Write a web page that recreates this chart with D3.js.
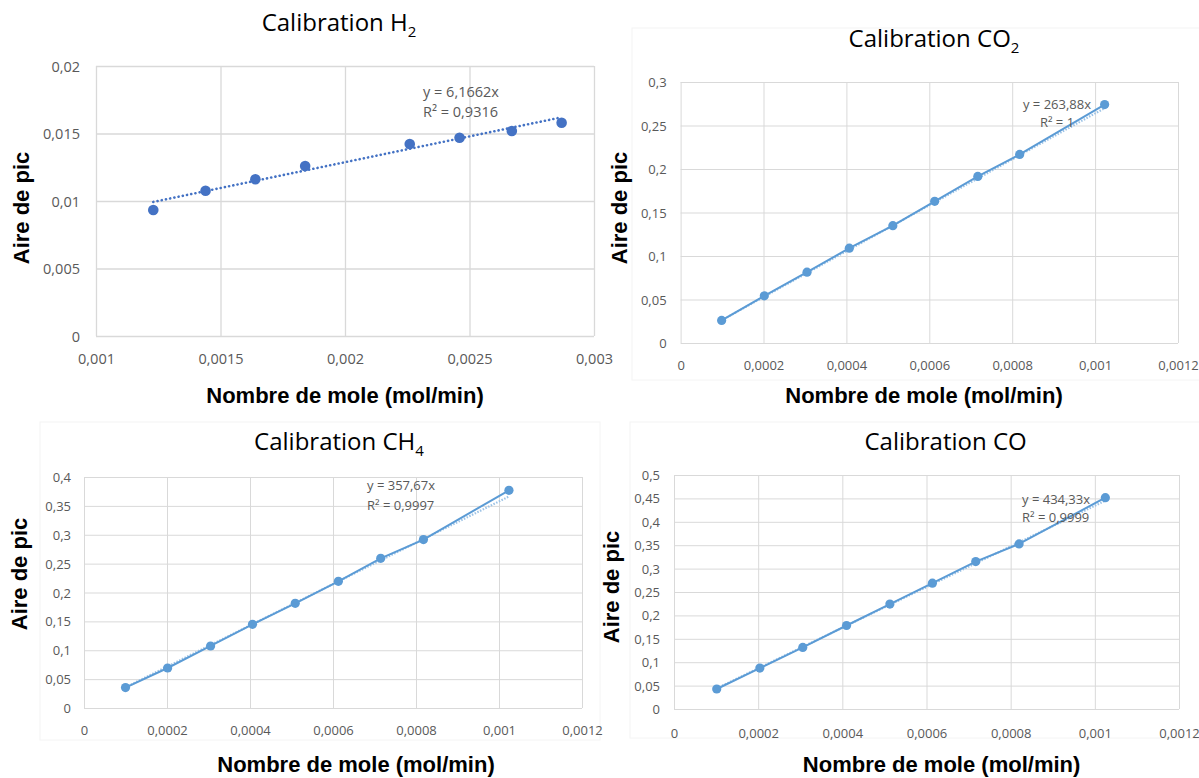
<!DOCTYPE html>
<html>
<head>
<meta charset="utf-8">
<script src="https://cdn.jsdelivr.net/npm/d3@7"></script>
<style>
  body { margin: 0; background: #fff; }
  svg { display: block; }
  .tick-label { font-family: "Open Sans", sans-serif; fill: #595959; }
  .title { font-family: "Open Sans", sans-serif; fill: #000; }
  .axis-title { font-family: "Liberation Sans", Arial, sans-serif; font-weight: bold; fill: #000; }
  .eq { font-family: "Open Sans", sans-serif; fill: #595959; }
</style>
</head>
<body>
<div id="chart"></div>
<script>
// values
var h2Moles = [0.00123, 0.00144, 0.00164, 0.00184, 0.00226, 0.00246, 0.00267, 0.00287]
var h2Aire = [0.00933, 0.01076, 0.01161, 0.01259, 0.01422, 0.01469, 0.01519, 0.0158]
var h2TrendEnds = [0.00993, 0.0162]
var h2Eq = ["y = 6,1662x", "R² = 0,9316"]

var co2Moles = [0.000099, 0.000202, 0.000305, 0.000407, 0.000512, 0.000613, 0.000717, 0.000818, 0.001023]
var co2Aire = [0.0259, 0.0542, 0.0814, 0.109, 0.1349, 0.1628, 0.1915, 0.2167, 0.274]
var co2Slope = 263.88
var co2Eq = ["y = 263,88x", "R² = 1"]

var ch4Moles = [0.0001, 0.0002015, 0.000305, 0.000406, 0.000509, 0.000613, 0.000715, 0.000818, 0.001024]
var ch4Aire = [0.0353, 0.0693, 0.1074, 0.1449, 0.1813, 0.2194, 0.2592, 0.2916, 0.377]
var ch4Slope = 357.67
var ch4Eq = ["y = 357,67x", "R² = 0,9997"]

var coMoles = [0.0001015, 0.000204, 0.000306, 0.00041, 0.000513, 0.000614, 0.000717, 0.00082, 0.001025]
var coAire = [0.0427, 0.0875, 0.1315, 0.1784, 0.2241, 0.2689, 0.315, 0.3528, 0.4516]
var coSlope = 434.33
var coEq = ["y = 434,33x", "R² = 0,9999"]

var h2XTicks = [0.001, 0.0015, 0.002, 0.0025, 0.003]
var h2YTicks = [0, 0.005, 0.01, 0.015, 0.02]
var molXTicks = [0, 0.0002, 0.0004, 0.0006, 0.0008, 0.001, 0.0012]
var co2YTicks = [0, 0.05, 0.1, 0.15, 0.2, 0.25, 0.3]
var ch4YTicks = [0, 0.05, 0.1, 0.15, 0.2, 0.25, 0.3, 0.35, 0.4]
var coYTicks = [0, 0.05, 0.1, 0.15, 0.2, 0.25, 0.3, 0.35, 0.4, 0.45, 0.5]

var xTitle = "Nombre de mole (mol/min)"
var yTitle = "Aire de pic"

var svg = d3.select("#chart")
    .append("svg")
        .attr("width", 1199)
        .attr("height", 778)

var fmt = function(d){ return String(d).replace(".", ",") }

function drawPanel(cfg){
    var g = svg.append("g")

    if (cfg.frame) {
        g.append("rect")
            .attr("x", cfg.frame[0]).attr("y", cfg.frame[1])
            .attr("width", cfg.frame[2]).attr("height", cfg.frame[3])
            .attr("fill", "none")
            .attr("stroke", "#f4f4f4")
    }

    var x = d3.scaleLinear()
        .domain(d3.extent(cfg.xTicks))
        .range([cfg.left, cfg.right])
    var y = d3.scaleLinear()
        .domain(d3.extent(cfg.yTicks))
        .range([cfg.bottom, cfg.top])
    var h = cfg.bottom - cfg.top,
        w = cfg.right - cfg.left

    // grid
    g.append("g")
        .attr("transform", "translate(0," + cfg.bottom + ")")
        .call(d3.axisBottom(x).tickValues(cfg.xTicks).tickSize(-h).tickFormat(""))
    g.append("g")
        .attr("transform", "translate(" + cfg.left + ",0)")
        .call(d3.axisLeft(y).tickValues(cfg.yTicks).tickSize(-w).tickFormat(""))
    g.selectAll(".domain").remove()
    g.selectAll(".tick line")
        .attr("stroke", "#d9d9d9")
        .attr("stroke-width", cfg.gridWidth)

    // tick labels
    var xAxis = g.append("g")
        .attr("transform", "translate(0," + cfg.bottom + ")")
        .call(d3.axisBottom(x).tickValues(cfg.xTicks).tickSize(0).tickFormat(fmt))
    xAxis.select(".domain").remove()
    xAxis.selectAll("text")
        .attr("class", "tick-label")
        .attr("y", cfg.xLabelOffset)
        .attr("dy", "0.35em")
        .attr("fill", null)
        .style("font-size", cfg.tickSize + "px")

    var yAxis = g.append("g")
        .attr("transform", "translate(" + cfg.left + ",0)")
        .call(d3.axisLeft(y).tickValues(cfg.yTicks).tickSize(0).tickFormat(fmt))
    yAxis.select(".domain").remove()
    yAxis.selectAll("text")
        .attr("class", "tick-label")
        .attr("x", -cfg.yLabelGap)
        .attr("dy", "0.35em")
        .attr("fill", null)
        .style("font-size", cfg.tickSize + "px")

    var pts = cfg.moles.map(function(d, i){ return { x: d, y: cfg.aire[i] } })

    // trendline
    var trend
    if (cfg.trendEnds) {
        trend = [{ x: pts[0].x, y: cfg.trendEnds[0] }, { x: pts[pts.length-1].x, y: cfg.trendEnds[1] }]
    } else {
        var ext = d3.extent(cfg.moles)
        trend = ext.map(function(d){ return { x: d, y: d * cfg.slope } })
    }
    var line = d3.line()
        .x(function(d){ return x(d.x) })
        .y(function(d){ return y(d.y) })

    if (cfg.connect) {
        g.append("path")
            .datum(trend)
            .attr("d", line)
            .attr("fill", "none")
            .attr("stroke", "#9dc3e6")
            .attr("stroke-width", 2.2)
            .attr("stroke-dasharray", "1.5,1.5")
        g.append("path")
            .datum(pts)
            .attr("d", line)
            .attr("fill", "none")
            .attr("stroke", cfg.color)
            .attr("stroke-width", 2)
    } else {
        g.append("path")
            .datum(trend)
            .attr("d", line)
            .attr("fill", "none")
            .attr("stroke", cfg.color)
            .attr("stroke-width", 2.6)
            .attr("stroke-linecap", "round")
            .attr("stroke-dasharray", "0.1,4.2")
    }

    g.selectAll(".pt")
        .data(pts)
        .enter()
        .append("circle")
            .attr("class", "pt")
            .attr("cx", function(d){ return x(d.x) })
            .attr("cy", function(d){ return y(d.y) })
            .attr("r", cfg.r)
            .attr("fill", cfg.color)

    // equation label
    var eq = g.append("text")
        .attr("class", "eq")
        .style("font-size", cfg.eqSize + "px")
        .attr("text-anchor", cfg.eqAnchor)
    cfg.eq.forEach(function(t, i){
        eq.append("tspan")
            .attr("x", cfg.eqPos[0])
            .attr("y", cfg.eqPos[1] + i * cfg.eqStep)
            .attr("dy", "0.35em")
            .text(t)
    })

    // titles
    var title = g.append("text")
        .attr("class", "title")
        .attr("x", cfg.titlePos[0])
        .attr("y", cfg.titlePos[1])
        .attr("text-anchor", "middle")
        .style("font-size", "24px")
    title.append("tspan").text(cfg.title[0])
    if (cfg.title[1]) {
        title.append("tspan")
            .attr("dy", 6)
            .style("font-size", "15px")
            .text(cfg.title[1])
    }

    g.append("text")
        .attr("class", "axis-title")
        .attr("x", cfg.xTitlePos[0])
        .attr("y", cfg.xTitlePos[1])
        .attr("dy", "0.35em")
        .attr("text-anchor", "middle")
        .style("font-size", "22px")
        .text(xTitle)

    g.append("text")
        .attr("class", "axis-title")
        .attr("transform", "translate(" + cfg.yTitlePos[0] + "," + cfg.yTitlePos[1] + ") rotate(-90)")
        .attr("dy", "0.35em")
        .attr("text-anchor", "middle")
        .style("font-size", "22px")
        .text(yTitle)
}

drawPanel({
    left: 96, right: 594, top: 66, bottom: 336,
    xTicks: h2XTicks, yTicks: h2YTicks,
    moles: h2Moles, aire: h2Aire, trendEnds: h2TrendEnds,
    color: "#4472c4", r: 5.3, connect: false, gridWidth: 1.3,
    tickSize: 14.5, xLabelOffset: 23, yLabelGap: 16,
    eq: h2Eq, eqPos: [423, 92], eqStep: 20, eqSize: 14.5, eqAnchor: "start",
    title: ["Calibration H", "2"], titlePos: [339, 31],
    xTitlePos: [345, 395], yTitlePos: [21, 208]
})

drawPanel({
    left: 680.6, right: 1178, top: 82, bottom: 343,
    xTicks: molXTicks, yTicks: co2YTicks,
    moles: co2Moles, aire: co2Aire, slope: co2Slope,
    color: "#5b9bd5", r: 4.6, connect: true, gridWidth: 1,
    tickSize: 13, xLabelOffset: 22.5, yLabelGap: 14,
    eq: co2Eq, eqPos: [1057, 104], eqStep: 18.5, eqSize: 13, eqAnchor: "middle",
    title: ["Calibration CO", "2"], titlePos: [934, 46.5],
    xTitlePos: [924, 395], yTitlePos: [619, 208],
    frame: [632, 28, 580, 352]
})

drawPanel({
    left: 84, right: 582, top: 477, bottom: 708,
    xTicks: molXTicks, yTicks: ch4YTicks,
    moles: ch4Moles, aire: ch4Aire, slope: ch4Slope,
    color: "#5b9bd5", r: 4.6, connect: true, gridWidth: 1,
    tickSize: 13, xLabelOffset: 22, yLabelGap: 13,
    eq: ch4Eq, eqPos: [367, 485], eqStep: 20, eqSize: 13, eqAnchor: "start",
    title: ["Calibration CH", "4"], titlePos: [339, 450],
    xTitlePos: [356, 764], yTitlePos: [19, 574],
    frame: [40, 422, 560, 318]
})

drawPanel({
    left: 674, right: 1179, top: 475, bottom: 709,
    xTicks: molXTicks, yTicks: coYTicks,
    moles: coMoles, aire: coAire, slope: coSlope,
    color: "#5b9bd5", r: 4.6, connect: true, gridWidth: 1,
    tickSize: 13, xLabelOffset: 24, yLabelGap: 14,
    eq: coEq, eqPos: [1022, 499], eqStep: 18, eqSize: 13, eqAnchor: "start",
    title: ["Calibration CO"], titlePos: [945.6, 450],
    xTitlePos: [941.6, 764], yTitlePos: [611.5, 587],
    frame: [630, 422, 580, 316]
})
</script>
</body>
</html>
